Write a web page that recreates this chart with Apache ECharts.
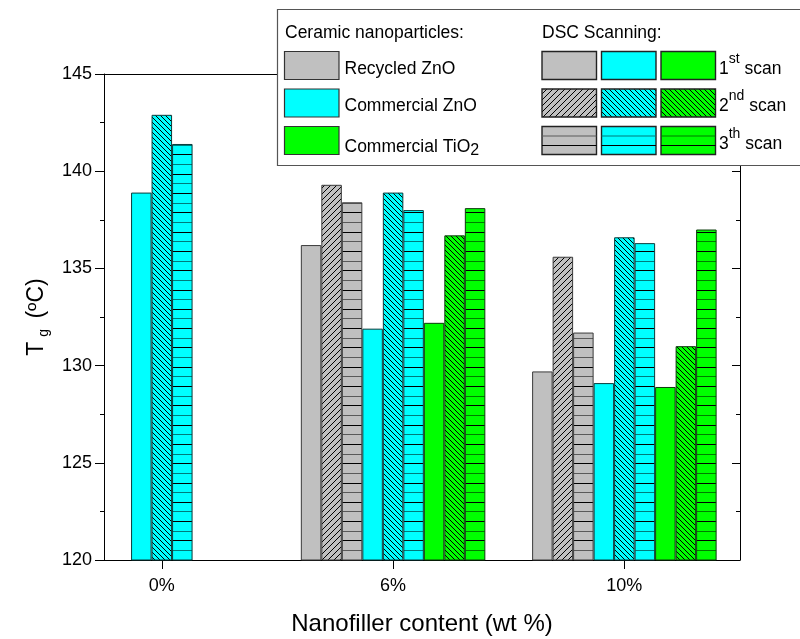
<!DOCTYPE html>
<html>
<head>
<meta charset="utf-8">
<script src="https://cdn.jsdelivr.net/npm/echarts@6/dist/echarts.min.js"></script>
<style>html,body{margin:0;padding:0;background:#fff;}#c{width:800px;height:639px;}</style>
</head>
<body>
<div id="c"></div>
<script>
// ---- data ----
const categories = ['0%', '6%', '10%'];
const recycledZnO_scan1 = [null, 136.2, 129.7];
const recycledZnO_scan2 = [null, 139.3, 135.6];
const recycledZnO_scan3 = [null, 138.4, 131.7];
const commercialZnO_scan1 = [138.9, 131.9, 129.1];
const commercialZnO_scan2 = [142.9, 138.9, 136.6];
const commercialZnO_scan3 = [141.4, 138.0, 136.3];
const commercialTiO2_scan1 = [null, 132.2, 128.9];
const commercialTiO2_scan2 = [null, 136.7, 131.0];
const commercialTiO2_scan3 = [null, 138.1, 137.0];
const yMin = 120, yMax = 145, yStep = 5;

// ---- styles ----
const FONT = 'Arial, "Liberation Sans", sans-serif';
const GRAY = '#C0C0C0', CYAN = '#00FFFF', GREEN = '#00FF00';
const SHADE = { [GRAY]: '#5a5a5a', [CYAN]: '#007b7b', [GREEN]: '#007b00' };
const EDGE = { [GRAY]: '#3a3a3a', [CYAN]: '#0b3b3b', [GREEN]: '#0b3b0b' };

function diagPattern(bg, dir, s) {
  const c = document.createElement('canvas');
  c.width = s; c.height = s;
  const g = c.getContext('2d');
  g.fillStyle = bg; g.fillRect(0, 0, s, s);
  g.strokeStyle = '#000'; g.lineWidth = 1;
  g.beginPath();
  if (dir === '/') {
    g.moveTo(0, s); g.lineTo(s, 0);
    g.moveTo(-1, 1); g.lineTo(1, -1);
    g.moveTo(s - 1, s + 1); g.lineTo(s + 1, s - 1);
  } else {
    g.moveTo(0, 0); g.lineTo(s, s);
    g.moveTo(-1, s - 1); g.lineTo(1, s + 1);
    g.moveTo(s - 1, -1); g.lineTo(s + 1, 1);
  }
  g.stroke();
  return { image: c, repeat: 'repeat' };
}
function horizPattern(bg) {
  const c = document.createElement('canvas');
  c.width = 4; c.height = 640;
  const g = c.getContext('2d');
  g.fillStyle = bg; g.fillRect(0, 0, 4, 640);
  g.lineWidth = 1;
  for (let k = 0; k * 9.65 < 640; k++) {
    const y = Math.round(k * 9.65) + 0.5;
    g.strokeStyle = (k % 2 === 0) ? '#000' : SHADE[bg];
    g.beginPath(); g.moveTo(0, y); g.lineTo(4, y); g.stroke();
  }
  return { image: c, repeat: 'repeat' };
}

const fills = {
  g1: GRAY, g2: diagPattern(GRAY, '/', 6), g3: horizPattern(GRAY),
  c1: CYAN, c2: diagPattern(CYAN, '\\', 5), c3: horizPattern(CYAN),
  t1: GREEN, t2: diagPattern(GREEN, '\\', 5), t3: horizPattern(GREEN)
};

// axis slots: categories placed at slot 1, 5, 9 of 12 (boundaryGap false)
const slotOf = k => 1 + 4 * k;
const slots = Array.from({ length: 12 }, (_, i) => 'slot' + i);
const slotLabel = {};
categories.forEach((c, k) => { slotLabel[slotOf(k)] = c; });
const isCatSlot = i => slotLabel[i] !== undefined;
function pad(arr) {
  const out = new Array(12).fill(null);
  arr.forEach((v, k) => { out[slotOf(k)] = v; });
  return out;
}

const seriesDefs = [
  ['Recycled ZnO 1st', recycledZnO_scan1, fills.g1, GRAY],
  ['Recycled ZnO 2nd', recycledZnO_scan2, fills.g2, GRAY],
  ['Recycled ZnO 3rd', recycledZnO_scan3, fills.g3, GRAY],
  ['Commercial ZnO 1st', commercialZnO_scan1, fills.c1, CYAN],
  ['Commercial ZnO 2nd', commercialZnO_scan2, fills.c2, CYAN],
  ['Commercial ZnO 3rd', commercialZnO_scan3, fills.c3, CYAN],
  ['Commercial TiO2 1st', commercialTiO2_scan1, fills.t1, GREEN],
  ['Commercial TiO2 2nd', commercialTiO2_scan2, fills.t2, GREEN],
  ['Commercial TiO2 3rd', commercialTiO2_scan3, fills.t3, GREEN]
];
const series = seriesDefs.map(([name, data, fill, base]) => ({
  name, type: 'bar', data: pad(data), barWidth: 20.5, barGap: '0%',
  itemStyle: { color: fill, borderColor: EDGE[base], borderWidth: 1 },
  emphasis: { disabled: true }, silent: true
}));

// ---- legend (graphic) ----
const LFS = 17.5;
const LX = 277.5, LY = 9.5;
const rowsY = [51.5, 89, 126.5], SW = 54.5, SH = 28;
const colL = 284.5, scanX = [542, 601.5, 661];
const g = [];
g.push({ type: 'rect', z: 100, shape: { x: LX, y: LY, width: 600, height: 156 }, style: { fill: '#fff', stroke: '#555', lineWidth: 1.2 } });
g.push({ type: 'text', z: 101, style: { text: 'Ceramic nanoparticles:', x: 285, y: 33, fontSize: LFS, fontFamily: FONT, fill: '#000', verticalAlign: 'middle' } });
g.push({ type: 'text', z: 101, style: { text: 'DSC Scanning:', x: 542, y: 33, fontSize: LFS, fontFamily: FONT, fill: '#000', verticalAlign: 'middle' } });
const leftNames = [
  { text: 'Recycled ZnO' },
  { text: 'Commercial ZnO' },
  { text: '{a|Commercial TiO}{s|2}', rich: true }
];
[GRAY, CYAN, GREEN].forEach((col, r) => {
  g.push({ type: 'rect', z: 101, shape: { x: colL, y: rowsY[r], width: SW, height: SH }, style: { fill: col, stroke: '#333', lineWidth: 1.2 } });
  const t = leftNames[r];
  if (t.rich) {
    g.push({ type: 'text', z: 101, style: { text: t.text, x: 344.5, y: rowsY[r] + SH / 2 + 3.5 + 3, verticalAlign: 'middle', fill: '#000',
      rich: { a: { fontSize: LFS, fontFamily: FONT, lineHeight: 24, fill: '#000' }, s: { fontSize: 16, fontFamily: FONT, lineHeight: 12, verticalAlign: 'bottom', fill: '#000' } } } });
  } else {
    g.push({ type: 'text', z: 101, style: { text: t.text, x: 344.5, y: rowsY[r] + SH / 2 + 3.5, fontSize: LFS, fontFamily: FONT, fill: '#000', verticalAlign: 'middle' } });
  }
});
const bases = [GRAY, CYAN, GREEN];
const scanKeys = [['g1', 'c1', 't1'], ['g2', 'c2', 't2']];
for (let r = 0; r < 3; r++) {
  for (let c = 0; c < 3; c++) {
    const x = scanX[c], y = rowsY[r];
    if (r < 2) {
      g.push({ type: 'rect', z: 101, shape: { x, y, width: SW, height: SH }, style: { fill: fills[scanKeys[r][c]], stroke: '#222', lineWidth: 1.4 } });
    } else {
      g.push({ type: 'rect', z: 101, shape: { x, y, width: SW, height: SH }, style: { fill: bases[c], stroke: '#222', lineWidth: 1.4 } });
      g.push({ type: 'line', z: 102, shape: { x1: x, y1: y + 9.5, x2: x + SW, y2: y + 9.5 }, style: { stroke: SHADE[bases[c]], lineWidth: 1.2 } });
      g.push({ type: 'line', z: 102, shape: { x1: x, y1: y + 19, x2: x + SW, y2: y + 19 }, style: { stroke: '#000', lineWidth: 1.2 } });
    }
  }
}
const scanLabels = [['1', 'st'], ['2', 'nd'], ['3', 'th']];
scanLabels.forEach(([n, sup], r) => {
  g.push({ type: 'text', z: 101, style: {
    text: '{n|' + n + '}{p|' + sup + '}{n| scan}', x: 719, y: rowsY[r] + SH / 2 + 3.5, verticalAlign: 'middle', fill: '#000',
    rich: { n: { fontSize: LFS, fontFamily: FONT, lineHeight: 34, fill: '#000' }, p: { fontSize: 14, fontFamily: FONT, lineHeight: 12, verticalAlign: 'top', fill: '#000' } }
  } });
});

// ---- chart ----
const chart = echarts.init(document.getElementById('c'), null, { renderer: 'canvas' });
const axisLineStyle = { color: '#000', width: 1 };
chart.setOption({
  animation: false,
  backgroundColor: '#fff',
  grid: { left: 104, right: 60, top: 74, bottom: 79, containLabel: false, outerBoundsMode: 'none' },
  xAxis: [
    {
      type: 'category', data: slots, boundaryGap: false, position: 'bottom',
      axisLine: { show: true, lineStyle: axisLineStyle },
      axisTick: { show: true, interval: (i) => isCatSlot(i), length: 9, inside: false, lineStyle: axisLineStyle },
      axisLabel: { show: true, interval: (i) => isCatSlot(i), formatter: (v, i) => slotLabel[i] || '', color: '#000', fontSize: 18, fontFamily: FONT, margin: 17, hideOverlap: false },
      splitLine: { show: false },
      name: 'Nanofiller content (wt %)', nameLocation: 'middle', nameGap: 52,
      nameTextStyle: { color: '#000', fontSize: 24, fontFamily: FONT }
    },
    {
      type: 'category', data: slots, boundaryGap: false, position: 'top',
      axisLine: { show: true, lineStyle: axisLineStyle },
      axisTick: { show: false }, axisLabel: { show: false }, splitLine: { show: false }
    }
  ],
  yAxis: [
    {
      type: 'value', min: yMin, max: yMax, interval: yStep, position: 'left',
      axisLine: { show: true, lineStyle: axisLineStyle },
      axisTick: { show: true, length: 9, inside: false, lineStyle: axisLineStyle },
      minorTick: { show: true, splitNumber: 2, length: 4, lineStyle: axisLineStyle },
      axisLabel: { color: '#000', fontSize: 18, fontFamily: FONT, margin: 12 },
      splitLine: { show: false },
      name: '{t|T}{g|g}{t| (ºC)}', nameLocation: 'middle', nameRotate: 90, nameGap: 43,
      nameTextStyle: {
        color: '#000', fontFamily: FONT,
        rich: { t: { fontSize: 23, fontFamily: FONT, lineHeight: 28, color: '#000' }, g: { fontSize: 14, fontFamily: FONT, lineHeight: 13, verticalAlign: 'bottom', color: '#000', padding: [0, 4, 0, 5] } }
      }
    },
    {
      type: 'value', min: yMin, max: yMax, interval: yStep, position: 'right',
      axisLine: { show: true, lineStyle: axisLineStyle },
      axisTick: { show: true, length: 8, inside: true, lineStyle: axisLineStyle },
      minorTick: { show: true, splitNumber: 2, length: 4, lineStyle: axisLineStyle },
      axisLabel: { show: false }, splitLine: { show: false }
    }
  ],
  series,
  graphic: { elements: g }
});
</script>
</body>
</html>
